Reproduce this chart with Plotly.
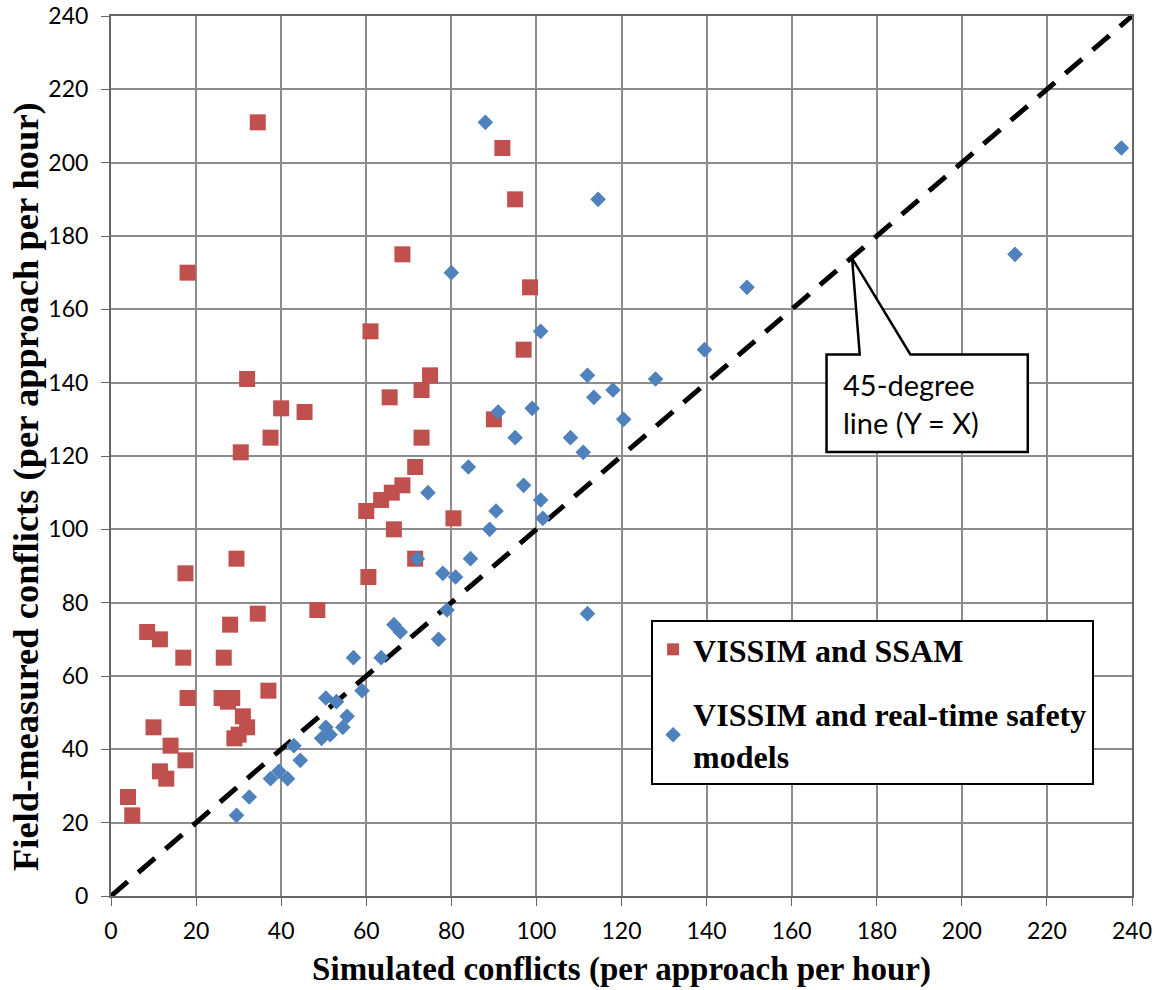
import plotly.graph_objects as go

# VISSIM and SSAM (red squares)
ssam_x = [4, 5, 8.5, 10, 11.5, 11.5, 13, 14, 17, 17.5, 17.5, 18, 18, 26, 26.5, 27.5, 28, 28.5,
          29, 29.5, 30, 31, 32, 30.5, 32, 34.5, 34.5, 37, 37.5, 40, 45.5, 48.5, 60, 60.5, 61,
          63.5, 65.5, 66, 66.5, 68.5, 68.5, 71.5, 71.5, 73, 73, 75, 80.5, 90, 92, 95, 97, 98.5]
ssam_y = [27, 22, 72, 46, 70, 34, 32, 41, 65, 88, 37, 54, 170, 54, 65, 53, 74, 54,
          43, 92, 44, 49, 46, 121, 141, 211, 77, 56, 125, 133, 132, 78, 105, 87, 154,
          108, 136, 110, 100, 112, 175, 117, 92, 138, 125, 142, 103, 130, 204, 190, 149, 166]

# VISSIM and real-time safety models (blue diamonds)
rt_x = [29.5, 32.5, 37.5, 39.5, 41.5, 43, 44.5, 49.5, 50.5, 51.5, 54.5, 50.5, 53, 55.5, 59,
        57, 63.5, 66.5, 68, 77, 79, 72, 78, 81, 84.5, 89, 74.5, 84, 90.5, 97, 101, 101.5,
        91, 95, 99, 108, 111, 112, 120.5, 112, 113.5, 118, 128, 139.5, 149.5, 101, 80,
        114.5, 88, 212.5, 237.5]
rt_y = [22, 27, 32, 34, 32, 41, 37, 43, 46, 44, 46, 54, 53, 49, 56,
        65, 65, 74, 72, 70, 78, 92, 88, 87, 92, 100, 110, 117, 105, 112, 108, 103,
        132, 125, 133, 125, 121, 77, 130, 142, 136, 138, 141, 149, 166, 154, 170,
        190, 211, 175, 204]

line_xy = [0, 240]
ticks = list(range(0, 241, 20))

fig = go.Figure()
fig.add_trace(go.Scatter(x=line_xy, y=line_xy, mode="lines",
                         line=dict(color="black", width=5, dash="22px,14px"),
                         showlegend=False, hoverinfo="skip"))
fig.add_trace(go.Scatter(x=ssam_x, y=ssam_y, mode="markers", name="VISSIM and SSAM",
                         legendgroup="a",
                         marker=dict(symbol="square", size=16, color="#C0504D")))
fig.add_trace(go.Scatter(x=rt_x, y=rt_y, mode="markers",
                         name="VISSIM and real-time safety<br>models", legendgroup="b",
                         marker=dict(symbol="diamond", size=12, color="#4F81BD")))

# Callout for 45-degree line
bx0, bx1, by0, by1 = 168.2, 215.5, 121.1, 147.7
tipx, tipy = 174.2, 173.9
fig.add_shape(type="path",
              path=f"M {bx0},{by1} L 176,{by1} L {tipx},{tipy} L 187.9,{by1} L {bx1},{by1} "
                   f"L {bx1},{by0} L {bx0},{by0} Z",
              xref="x", yref="y", fillcolor="white", line=dict(color="black", width=2.5),
              layer="above")
fig.add_annotation(x=171.5, y=134.4, xref="x", yref="y", xanchor="left", yanchor="middle",
                   text="45-degree<br>line (Y = X)", showarrow=False, align="left",
                   font=dict(family="Lato, Open Sans, sans-serif", size=29, color="black"))

# Y-axis title (placed as annotation to match its off-centre position)
fig.add_annotation(x=-0.083, y=0.465, xref="paper", yref="paper", xanchor="center",
                   yanchor="middle", textangle=-90, showarrow=False,
                   text="<b>Field-measured conflicts (per approach per hour)</b>",
                   font=dict(family="Liberation Serif, Times New Roman, serif", size=36.5,
                             color="black"))

axis_common = dict(range=[0, 240], tickvals=ticks, showgrid=True, gridcolor="#8c8c8c",
                   gridwidth=1.5, showline=True, linecolor="#666666", linewidth=2,
                   mirror=True, ticks="outside", ticklen=8, tickcolor="#666666",
                   tickfont=dict(family="Lato, Open Sans, sans-serif", size=23, color="black"),
                   zeroline=False, fixedrange=True, automargin=False)

fig.update_layout(
    width=1158, height=990,
    margin=dict(l=111, r=26, t=16, b=94, autoexpand=False),
    paper_bgcolor="white", plot_bgcolor="white",
    xaxis=dict(**axis_common, ticklabelstandoff=5,
               title=dict(text="<b>Simulated conflicts (per approach per hour)</b>",
                          font=dict(family="Liberation Serif, Times New Roman, serif",
                                    size=33, color="black"), standoff=14)),
    yaxis=dict(**axis_common, ticklabelstandoff=8),
    legend=dict(x=0.529, y=0.3136, xanchor="left", yanchor="top",
                bgcolor="white", bordercolor="black", borderwidth=2,
                font=dict(family="Liberation Serif, Times New Roman, serif", size=32,
                          color="black", weight="bold"),
                traceorder="grouped", tracegroupgap=20, itemsizing="constant",
                itemwidth=30),
    showlegend=True,
)

fig.write_html("out.html")
